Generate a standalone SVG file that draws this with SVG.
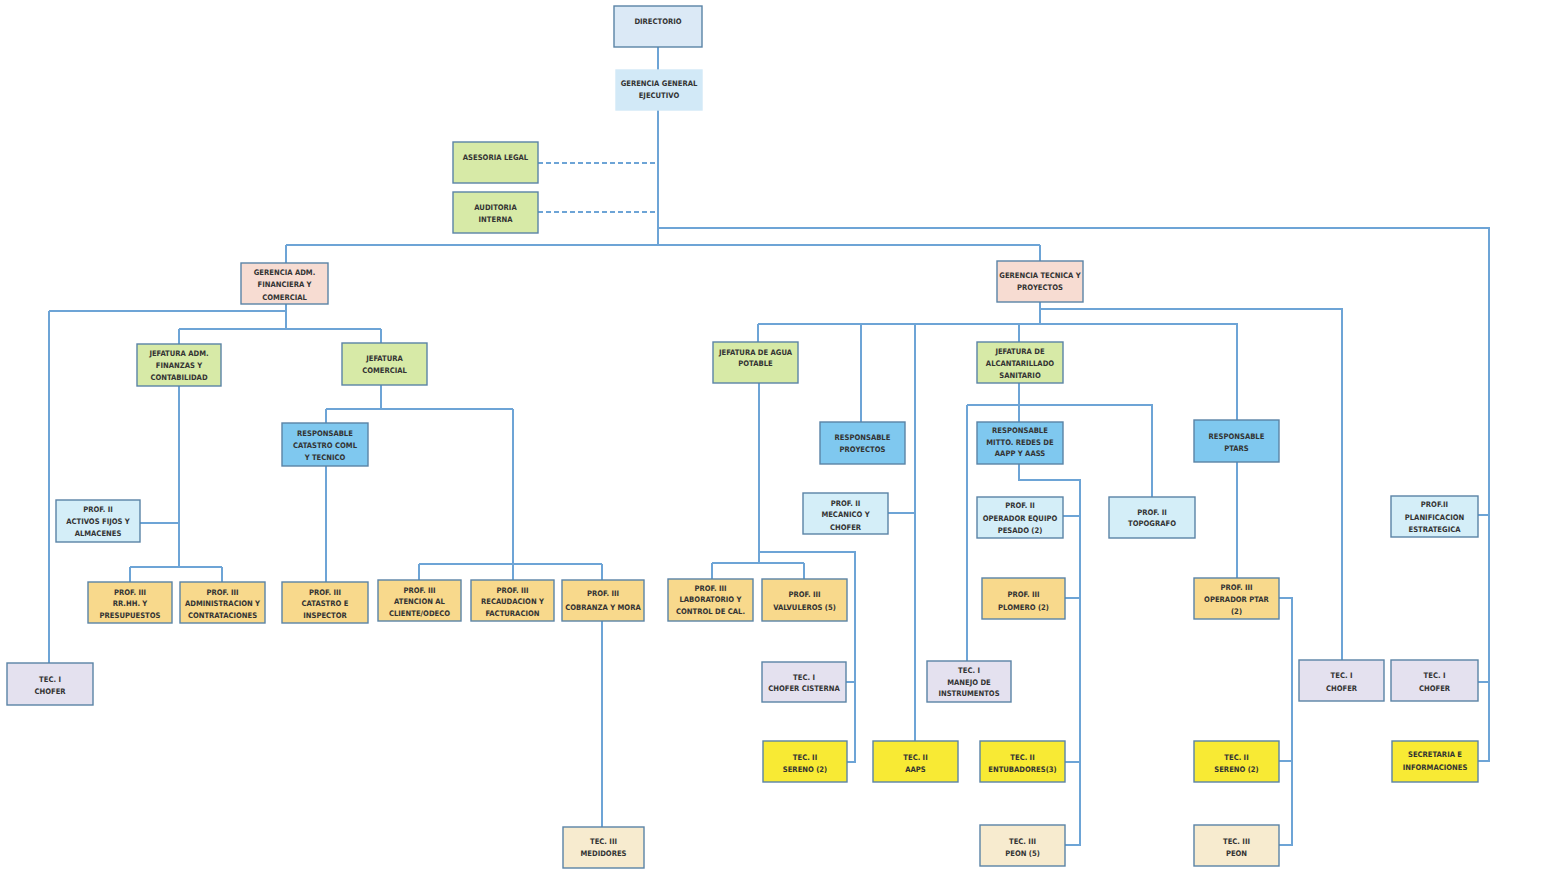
<svg xmlns="http://www.w3.org/2000/svg" width="1544" height="884" viewBox="0 0 1544 884">
<style>
.bg{fill:#ffffff}
.c{fill:none;stroke:#6da4d6;stroke-width:2}
.d{fill:none;stroke:#6da4d6;stroke-width:2;stroke-dasharray:5 3}
rect.b{stroke:#5a83a6;stroke-width:1.4}
.dirf{fill:#dbe9f6}
.ggf{fill:#d2e9f7;stroke:#d2e9f7 !important}
.grn{fill:#d7eaa7}
.pnk{fill:#f7dcd2}
.blu{fill:#7fc8ef}
.cyn{fill:#d4eef8}
.org{fill:#f8d98c}
.lav{fill:#e4e1ef}
.yel{fill:#f8ea34}
.bei{fill:#f7ebcf}
text{font-family:"Liberation Sans Narrow","DejaVu Sans Condensed","Liberation Sans",sans-serif;font-size:7.6px;font-weight:bold;fill:#333333;text-anchor:middle}
</style>
<rect class="bg" x="0" y="0" width="1544" height="884"/>
<g id="connectors">
<path class="c" d="M658,47V70"/>
<path class="c" d="M658,110V245"/>
<path class="d" d="M538,163H658"/>
<path class="d" d="M538,212H658"/>
<path class="c" d="M658,228H1489V761H1478"/>
<path class="c" d="M1489,515H1478M1489,682H1478"/>
<path class="c" d="M286,245H1040M286,245V263M1040,245V261"/>
<path class="c" d="M286,304V329M49,311H286M49,311V663"/>
<path class="c" d="M179,329H381M179,329V344M381,329V343"/>
<path class="c" d="M179,386V567M130,567H222M130,567V582M222,567V582M140,523H179"/>
<path class="c" d="M381,385V409M326,409H513M326,409V423M326,466V582M513,409V564M419,564H602M419,564V580M513,564V580M602,564V580M602,621V827"/>
<path class="c" d="M1040,302V324M1040,309H1342V660M758,324H1237V420M758,324V342M861,324V422M915,324V741M1019,324V342"/>
<path class="c" d="M888,513H915"/>
<path class="c" d="M759,383V563M712,563H804M712,563V579M804,563V579M759,552H855V762H847M846,682H855"/>
<path class="c" d="M1019,383V422M967,405H1152V497M967,405V661"/>
<path class="c" d="M1019,464V480H1080V845H1065M1063,516H1080M1065,598H1080M1065,762H1080"/>
<path class="c" d="M1237,462V578M1279,598H1292V845H1279M1279,761H1292"/>
</g>
<g id="directorio"><rect class="b dirf" x="614" y="6" width="88" height="41"/><text x="658" y="24">DIRECTORIO</text></g>
<g id="gerencia-general"><rect class="b ggf" x="616" y="70" width="86" height="40"/><text x="659" y="86">GERENCIA GENERAL</text><text x="659" y="98">EJECUTIVO</text></g>
<g id="asesoria"><rect class="b grn" x="453" y="142" width="85" height="41"/><text x="495.5" y="160">ASESORIA LEGAL</text></g>
<g id="auditoria"><rect class="b grn" x="453" y="192" width="85" height="41"/><text x="495.5" y="210">AUDITORIA</text><text x="495.5" y="222">INTERNA</text></g>
<g id="gerencia-adm"><rect class="b pnk" x="241" y="263" width="87" height="41"/><text x="284.5" y="275">GERENCIA ADM.</text><text x="284.5" y="287">FINANCIERA Y</text><text x="284.5" y="300">COMERCIAL</text></g>
<g id="gerencia-tec"><rect class="b pnk" x="997" y="261" width="86" height="41"/><text x="1040" y="278">GERENCIA TECNICA Y</text><text x="1040" y="290">PROYECTOS</text></g>
<g id="jef-adm"><rect class="b grn" x="137" y="344" width="84" height="42"/><text x="179" y="356">JEFATURA ADM.</text><text x="179" y="368">FINANZAS Y</text><text x="179" y="380">CONTABILIDAD</text></g>
<g id="jef-com"><rect class="b grn" x="342" y="343" width="85" height="42"/><text x="384.5" y="361">JEFATURA</text><text x="384.5" y="373">COMERCIAL</text></g>
<g id="resp-catastro"><rect class="b blu" x="282" y="423" width="86" height="43"/><text x="325" y="436">RESPONSABLE</text><text x="325" y="448">CATASTRO COML</text><text x="325" y="460">Y TECNICO</text></g>
<g id="activos"><rect class="b cyn" x="56" y="500" width="84" height="42"/><text x="98" y="512">PROF. II</text><text x="98" y="524">ACTIVOS FIJOS Y</text><text x="98" y="536">ALMACENES</text></g>
<g id="rrhh"><rect class="b org" x="88" y="582" width="84" height="41"/><text x="130" y="595">PROF. III</text><text x="130" y="606">RR.HH. Y</text><text x="130" y="618">PRESUPUESTOS</text></g>
<g id="admcon"><rect class="b org" x="180" y="582" width="85" height="41"/><text x="222.5" y="595">PROF. III</text><text x="222.5" y="606">ADMINISTRACION Y</text><text x="222.5" y="618">CONTRATACIONES</text></g>
<g id="catins"><rect class="b org" x="282" y="582" width="86" height="41"/><text x="325" y="595">PROF. III</text><text x="325" y="606">CATASTRO E</text><text x="325" y="618">INSPECTOR</text></g>
<g id="atencion"><rect class="b org" x="378" y="580" width="83" height="41"/><text x="419.5" y="593">PROF. III</text><text x="419.5" y="604">ATENCION AL</text><text x="419.5" y="616">CLIENTE/ODECO</text></g>
<g id="recaudacion"><rect class="b org" x="471" y="580" width="83" height="41"/><text x="512.5" y="593">PROF. III</text><text x="512.5" y="604">RECAUDACION Y</text><text x="512.5" y="616">FACTURACION</text></g>
<g id="cobranza"><rect class="b org" x="562" y="580" width="82" height="41"/><text x="603" y="596">PROF. III</text><text x="603" y="610">COBRANZA Y MORA</text></g>
<g id="chofer-l"><rect class="b lav" x="7" y="663" width="86" height="42"/><text x="50" y="682">TEC. I</text><text x="50" y="694">CHOFER</text></g>
<g id="medidores"><rect class="b bei" x="563" y="827" width="81" height="41"/><text x="603.5" y="844">TEC. III</text><text x="603.5" y="856">MEDIDORES</text></g>
<g id="jef-agua"><rect class="b grn" x="713" y="342" width="85" height="41"/><text x="755.5" y="355">JEFATURA DE AGUA</text><text x="755.5" y="366">POTABLE</text></g>
<g id="resp-proy"><rect class="b blu" x="820" y="422" width="85" height="42"/><text x="862.5" y="440">RESPONSABLE</text><text x="862.5" y="452">PROYECTOS</text></g>
<g id="jef-alc"><rect class="b grn" x="977" y="342" width="86" height="41"/><text x="1020" y="354">JEFATURA DE</text><text x="1020" y="366">ALCANTARILLADO</text><text x="1020" y="378">SANITARIO</text></g>
<g id="resp-mitto"><rect class="b blu" x="977" y="422" width="86" height="42"/><text x="1020" y="433">RESPONSABLE</text><text x="1020" y="445">MITTO. REDES DE</text><text x="1020" y="456">AAPP Y AASS</text></g>
<g id="resp-ptars"><rect class="b blu" x="1194" y="420" width="85" height="42"/><text x="1236.5" y="439">RESPONSABLE</text><text x="1236.5" y="451">PTARS</text></g>
<g id="mecanico"><rect class="b cyn" x="803" y="493" width="85" height="41"/><text x="845.5" y="506">PROF. II</text><text x="845.5" y="517">MECANICO Y</text><text x="845.5" y="530">CHOFER</text></g>
<g id="op-equipo"><rect class="b cyn" x="977" y="497" width="86" height="41"/><text x="1020" y="508">PROF. II</text><text x="1020" y="521">OPERADOR EQUIPO</text><text x="1020" y="533">PESADO (2)</text></g>
<g id="topografo"><rect class="b cyn" x="1109" y="497" width="86" height="41"/><text x="1152" y="515">PROF. II</text><text x="1152" y="526">TOPOGRAFO</text></g>
<g id="planificacion"><rect class="b cyn" x="1391" y="496" width="87" height="41"/><text x="1434.5" y="507">PROF.II</text><text x="1434.5" y="520">PLANIFICACION</text><text x="1434.5" y="532">ESTRATEGICA</text></g>
<g id="laboratorio"><rect class="b org" x="668" y="579" width="85" height="42"/><text x="710.5" y="591">PROF. III</text><text x="710.5" y="602">LABORATORIO Y</text><text x="710.5" y="614">CONTROL DE CAL.</text></g>
<g id="valvuleros"><rect class="b org" x="762" y="579" width="85" height="42"/><text x="804.5" y="597">PROF. III</text><text x="804.5" y="610">VALVULEROS (5)</text></g>
<g id="plomero"><rect class="b org" x="982" y="578" width="83" height="41"/><text x="1023.5" y="597">PROF. III</text><text x="1023.5" y="610">PLOMERO (2)</text></g>
<g id="op-ptar"><rect class="b org" x="1194" y="578" width="85" height="41"/><text x="1236.5" y="590">PROF. III</text><text x="1236.5" y="602">OPERADOR PTAR</text><text x="1236.5" y="614">(2)</text></g>
<g id="chofer-cisterna"><rect class="b lav" x="762" y="662" width="84" height="40"/><text x="804" y="680">TEC. I</text><text x="804" y="691">CHOFER CISTERNA</text></g>
<g id="manejo"><rect class="b lav" x="927" y="661" width="84" height="41"/><text x="969" y="673">TEC. I</text><text x="969" y="685">MANEJO DE</text><text x="969" y="696">INSTRUMENTOS</text></g>
<g id="chofer-r1"><rect class="b lav" x="1299" y="660" width="85" height="41"/><text x="1341.5" y="678">TEC. I</text><text x="1341.5" y="691">CHOFER</text></g>
<g id="chofer-r2"><rect class="b lav" x="1391" y="660" width="87" height="41"/><text x="1434.5" y="678">TEC. I</text><text x="1434.5" y="691">CHOFER</text></g>
<g id="sereno-a"><rect class="b yel" x="763" y="741" width="84" height="41"/><text x="805" y="760">TEC. II</text><text x="805" y="772">SERENO (2)</text></g>
<g id="aaps"><rect class="b yel" x="873" y="741" width="85" height="41"/><text x="915.5" y="760">TEC. II</text><text x="915.5" y="772">AAPS</text></g>
<g id="entubadores"><rect class="b yel" x="980" y="741" width="85" height="41"/><text x="1022.5" y="760">TEC. II</text><text x="1022.5" y="772">ENTUBADORES(3)</text></g>
<g id="peon5"><rect class="b bei" x="980" y="825" width="85" height="41"/><text x="1022.5" y="844">TEC. III</text><text x="1022.5" y="856">PEON (5)</text></g>
<g id="sereno-p"><rect class="b yel" x="1194" y="741" width="85" height="41"/><text x="1236.5" y="760">TEC. II</text><text x="1236.5" y="772">SERENO (2)</text></g>
<g id="peon"><rect class="b bei" x="1194" y="825" width="85" height="41"/><text x="1236.5" y="844">TEC. III</text><text x="1236.5" y="856">PEON</text></g>
<g id="secretaria"><rect class="b yel" x="1392" y="741" width="86" height="41"/><text x="1435" y="757">SECRETARIA E</text><text x="1435" y="770">INFORMACIONES</text></g>
</svg>
